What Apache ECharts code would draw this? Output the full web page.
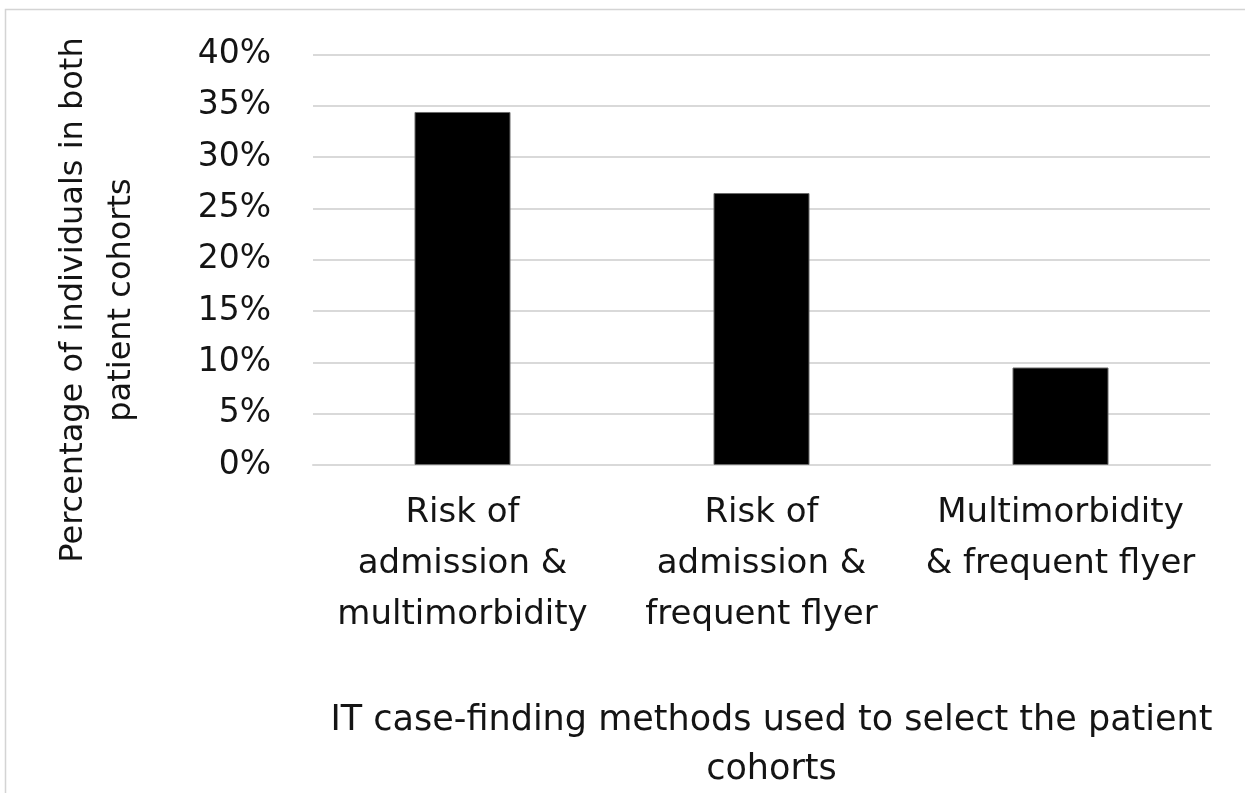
<!DOCTYPE html>
<html>
<head>
<meta charset="utf-8">
<title>Patient cohort overlap by IT case-finding method</title>
<script src="https://cdn.jsdelivr.net/npm/echarts@6/dist/echarts.min.js"></script>
<style>
  html, body { margin: 0; padding: 0; background: #ffffff; }
  #chart { width: 1245px; height: 793px; }
</style>
</head>
<body>
<div id="chart"></div>
<script>
// Pairs of case-finding methods (one category per bar)
const categories = [
  'Risk of\nadmission &\nmultimorbidity',
  'Risk of\nadmission &\nfrequent flyer',
  'Multimorbidity\n& frequent flyer'
];
// Share of individuals found in both cohorts, in percent
const overlapPercent = [34.4, 26.5, 9.5];
// Value axis range and step, in percent
const yMin = 0;
const yMax = 40;
const yStep = 5;

const xTitle = 'IT case-finding methods used to select the patient\ncohorts';
const yTitle = 'Percentage of individuals in both\npatient cohorts';

const FONT = '"DejaVu Sans", Verdana, sans-serif';
const TEXT = '#141414';
const GRID = '#d9d9d9';

const chart = echarts.init(document.getElementById('chart'), null, { renderer: 'canvas' });

chart.setOption({
  backgroundColor: '#ffffff',
  animation: false,
  grid: {
    left: 313, right: 35, top: 54.5, bottom: 328,
    containLabel: false,
    outerBoundsMode: 'none'
  },
  xAxis: {
    type: 'category',
    data: categories,
    axisLine: { show: true, lineStyle: { color: GRID, width: 2 } },
    axisTick: { show: false },
    axisLabel: {
      interval: 0,
      margin: 23,
      color: TEXT,
      fontFamily: FONT,
      fontSize: 34,
      lineHeight: 51
    },
    name: xTitle,
    nameLocation: 'middle',
    nameGap: 231,
    nameTextStyle: {
      color: TEXT,
      fontFamily: FONT,
      fontSize: 35,
      lineHeight: 49,
      padding: [0, 0, 0, 20]
    }
  },
  yAxis: {
    type: 'value',
    min: yMin,
    max: yMax,
    interval: yStep,
    axisLine: { show: false },
    axisTick: { show: false },
    splitLine: { show: true, lineStyle: { color: GRID, width: 2 } },
    axisLabel: {
      margin: 42,
      color: TEXT,
      fontFamily: FONT,
      fontSize: 33,
      formatter: '{value}%'
    }
  },
  series: [{
    type: 'bar',
    data: overlapPercent,
    barWidth: 96,
    itemStyle: { color: '#000000', borderColor: '#6b6b6b', borderWidth: 1 }
  }],
  graphic: [
    {
      // thin frame around the chart area
      type: 'rect',
      silent: true,
      shape: { x: 5.5, y: 9.5, width: 1400, height: 1000 },
      style: { fill: 'none', stroke: '#d4d4d4', lineWidth: 1.5 }
    },
    {
      // value-axis title, read bottom to top
      type: 'text',
      x: 98,
      y: 300,
      rotation: Math.PI / 2,
      style: {
        text: yTitle,
        fill: TEXT,
        font: '32px ' + FONT,
        lineHeight: 48,
        align: 'center',
        verticalAlign: 'middle'
      }
    }
  ]
});
</script>
</body>
</html>
